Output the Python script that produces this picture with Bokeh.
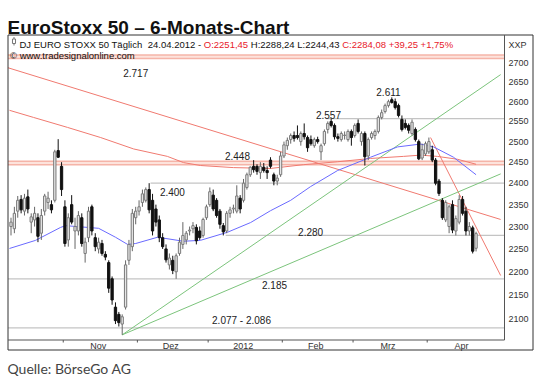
import math
from bokeh.plotting import figure
from bokeh.models import Range1d, ColumnDataSource
from bokeh.core.properties import value
from bokeh.embed import file_html
from bokeh.resources import INLINE

# ---------------- data ----------------
month_days = [16, 22, 21, 22, 21, 22, 15]          # trading days Oct 2011 .. Apr 2012
month_labels = ["Okt", "Nov", "Dez", "2012", "Feb", "Mrz", "Apr"]

opens = [2300, 2295, 2335, 2362, 2335, 2368, 2310, 2315, 2320, 2285, 2335, 2355, 2350, 2360, 2478, 2440,
         2345, 2270, 2350, 2290, 2290, 2320, 2240, 2275, 2345, 2275, 2250, 2262, 2238, 2220, 2185, 2125,
         2110, 2090, 2125, 2225, 2255,
         2320, 2335, 2355, 2360, 2385, 2360, 2340, 2315, 2275, 2250, 2215, 2225, 2200, 2240, 2260, 2270,
         2290, 2295, 2298, 2290, 2280,
         2320, 2350, 2372, 2360, 2335, 2302, 2290, 2330, 2340, 2335, 2365, 2360, 2390, 2420, 2440, 2440,
         2425, 2438, 2430, 2455, 2420, 2405, 2420,
         2465, 2490, 2505, 2515, 2515, 2500, 2520, 2510, 2505, 2490, 2505, 2475, 2495, 2530, 2550, 2540,
         2512, 2505, 2515, 2505, 2525,
         2515, 2545, 2500, 2520, 2465, 2510, 2515, 2525, 2560, 2575, 2590, 2605, 2600, 2590, 2555, 2545,
         2540, 2520, 2530, 2500, 2460, 2470,
         2475, 2480, 2455, 2405, 2360, 2315, 2300, 2350, 2290, 2310, 2362, 2335, 2290, 2297, 2251.45]
highs = [2320, 2345, 2370, 2372, 2375, 2385, 2330, 2345, 2330, 2340, 2375, 2380, 2360, 2480, 2506, 2450,
         2360, 2330, 2372, 2320, 2335, 2330, 2275, 2345, 2350, 2285, 2275, 2270, 2245, 2225, 2190, 2135,
         2115, 2110, 2225, 2270, 2340,
         2345, 2360, 2385, 2390, 2400, 2375, 2350, 2325, 2285, 2260, 2240, 2235, 2240, 2275, 2310, 2290,
         2300, 2310, 2305, 2300, 2320,
         2350, 2390, 2385, 2365, 2340, 2308, 2335, 2345, 2350, 2395, 2372, 2410, 2425, 2440, 2455, 2445,
         2450, 2448, 2440, 2462, 2425, 2420, 2475,
         2500, 2510, 2520, 2525, 2540, 2525, 2545, 2515, 2515, 2510, 2512, 2495, 2530, 2550, 2557, 2545,
         2520, 2525, 2525, 2530, 2530,
         2545, 2555, 2525, 2525, 2510, 2525, 2530, 2565, 2580, 2595, 2605, 2611, 2608, 2595, 2565, 2555,
         2545, 2555, 2535, 2505, 2495, 2500,
         2510, 2490, 2460, 2410, 2365, 2360, 2350, 2360, 2325, 2372, 2370, 2345, 2310, 2302, 2288.24]
lows = [2280, 2285, 2320, 2330, 2325, 2330, 2285, 2300, 2265, 2270, 2325, 2340, 2330, 2355, 2460, 2370,
        2255, 2255, 2305, 2250, 2280, 2255, 2220, 2265, 2280, 2245, 2240, 2235, 2225, 2155, 2130, 2090,
        2085, 2068, 2120, 2215, 2245,
        2305, 2325, 2345, 2355, 2330, 2280, 2300, 2265, 2250, 2220, 2205, 2195, 2185, 2235, 2250, 2260,
        2280, 2285, 2260, 2270, 2275,
        2315, 2345, 2335, 2320, 2295, 2280, 2285, 2320, 2330, 2330, 2330, 2355, 2385, 2415, 2425, 2420,
        2410, 2425, 2410, 2435, 2395, 2395, 2415,
        2460, 2480, 2495, 2500, 2505, 2490, 2505, 2475, 2490, 2485, 2495, 2455, 2490, 2520, 2535, 2505,
        2500, 2500, 2505, 2500, 2490,
        2510, 2520, 2490, 2442, 2455, 2505, 2505, 2520, 2555, 2570, 2585, 2595, 2580, 2560, 2525, 2530,
        2520, 2515, 2500, 2455, 2455, 2465,
        2470, 2450, 2395, 2370, 2315, 2310, 2285, 2285, 2280, 2305, 2325, 2280, 2280, 2240, 2244.43]
closes = [2310, 2330, 2360, 2338, 2365, 2340, 2322, 2330, 2278, 2325, 2370, 2365, 2338, 2475, 2462, 2385,
          2262, 2320, 2310, 2300, 2325, 2262, 2265, 2335, 2290, 2255, 2265, 2240, 2232, 2165, 2140, 2097,
          2093, 2105, 2215, 2260, 2330,
          2335, 2345, 2375, 2385, 2338, 2290, 2310, 2275, 2255, 2226, 2230, 2203, 2235, 2265, 2280, 2285,
          2292, 2302, 2268, 2275, 2316,
          2345, 2380, 2340, 2325, 2305, 2288, 2330, 2338, 2342, 2370, 2340, 2400, 2420, 2438, 2432, 2428,
          2440, 2430, 2425, 2440, 2405, 2412, 2465,
          2492, 2503, 2515, 2508, 2510, 2520, 2512, 2485, 2495, 2505, 2500, 2490, 2525, 2545, 2540, 2512,
          2508, 2520, 2516, 2525, 2510,
          2540, 2525, 2520, 2463, 2505, 2520, 2525, 2560, 2572, 2590, 2600, 2598, 2585, 2565, 2530, 2535,
          2528, 2548, 2505, 2458, 2480, 2495,
          2500, 2455, 2400, 2376, 2320, 2355, 2345, 2292, 2318, 2362, 2330, 2290, 2300, 2245, 2284.08]

ma_blue_idx = [-0.45, 7.3, 14.7, 16.2, 26.0, 31.0, 34.6, 37.0, 43.5, 51.2, 56.2, 64.2, 71.1, 77.0,
               83.0, 88.9, 96.9, 106.7, 114.7, 121.5, 125.4, 131.3, 138.0]
ma_blue_val = [2251, 2269, 2298, 2302, 2296, 2276, 2260, 2262, 2276, 2267, 2269, 2287, 2309, 2336,
               2360, 2392, 2430, 2462, 2487, 2494, 2487, 2462, 2420]
ma_red_idx = [-0.45, 6.7, 16.8, 26.6, 36.4, 46.4, 51.2, 56.2, 66.0, 77.0, 86.8, 96.9, 106.7, 116.5,
              121.5, 126.5, 132.5, 138.0]
ma_red_val = [2578, 2560, 2535, 2510, 2482, 2464, 2449, 2442, 2437, 2435, 2444, 2451, 2459, 2464,
              2467, 2464, 2457, 2445]

red_trend_idx = [-0.9, 145.3]
red_trend_val = [2688, 2316]
red_steep_idx = [124.5, 145.3]
red_steep_val = [2510, 2192]
green_idx = [33, 145.3]
green_steep_val = [2068, 2670]
green_flat_val = [2068, 2422]

red_zones = [2717, 2448]
support_levels = [2557, 2400, 2280, 2185, 2082]
support_start = [93.5, 41.4, 63.7, -0.9, -0.9]

y_ticks = list(range(2100, 2701, 50))
level_labels = ["2.717", "2.611", "2.557", "2.448", "2.400", "2.280", "2.185", "2.077 - 2.086"]
level_label_idx = [37.0, 112.0, 94.2, 67.2, 47.9, 88.9, 78.2, 68.4]
level_label_val = [2674, 2624, 2565, 2464, 2379, 2287, 2171, 2097]

# header pieces: (text, colour, number of spaces before it)
header_parts = [("DJ EURO STOXX 50 Täglich", "#111111", 0),
                ("24.04.2012 -", "#111111", 2),
                ("O:2251,45", "#e8202a", 1),
                ("H:2288,24 L:2244,43", "#111111", 1),
                ("C:2284,08 +39,25 +1,75%", "#e8202a", 1)]
title_text = "EuroStoxx 50 \u2013 6-Monats-Chart"
source_text = "Quelle: BörseGo AG"

# ---------------- layout: the frame covers the whole canvas (page has no margin) ----------------
W, H = 540, 376
PX_IDX0, PX_PER_IDX = 10.5, 3.37           # page x of bar 0, px per bar
PY_REF, V_REF, PX_PER_LN = 318.7, 2100.0, 1018.6


def xd(px):
    return (px - PX_IDX0) / PX_PER_IDX


def yd(py):
    return V_REF * math.exp((PY_REF - py) / PX_PER_LN)


X0, X1 = xd(0), xd(W)
Y0, Y1 = yd(H), yd(0)
BOX_L, BOX_R, BOX_T, BOX_B = xd(7.5), xd(532.5), yd(34.5), yd(349.5)
SEP_X = xd(504)
SEP_Y = yd(339.5)

p = figure(width=W, height=H, output_backend="svg", toolbar_location=None,
           x_range=Range1d(X0, X1), y_range=Range1d(Y0, Y1), y_axis_type="log",
           x_axis_location=None, y_axis_location=None,
           min_border_left=0, min_border_right=0, min_border_top=0, min_border_bottom=0,
           background_fill_color="white", border_fill_color="white")
p.title.visible = False
p.outline_line_color = None
p.grid.visible = False

# red resistance zones
for lv in red_zones:
    p.segment(x0=[BOX_L], y0=[lv], x1=[SEP_X], y1=[lv], line_color="#f5b4a8", line_width=5)
    p.segment(x0=[BOX_L], y0=[lv], x1=[SEP_X], y1=[lv], line_color="#fde3dc", line_width=2)

# grey support / resistance lines
p.segment(x0=support_start, y0=support_levels, x1=[SEP_X] * len(support_levels), y1=support_levels,
          line_color="#c4c4c4", line_width=1.3)

# trend lines
p.line(red_trend_idx, red_trend_val, line_color="#f07a70", line_width=1)
p.line(red_steep_idx, red_steep_val, line_color="#f07a70", line_width=1)
p.line(green_idx, green_steep_val, line_color="#7cc47c", line_width=1)
p.line(green_idx, green_flat_val, line_color="#7cc47c", line_width=1)

# moving averages
p.line(ma_red_idx, ma_red_val, line_color="#f07a70", line_width=1)
p.line(ma_blue_idx, ma_blue_val, line_color="#6a6aff", line_width=1)

# candles
n = len(opens)
up = [c >= o for o, c in zip(opens, closes)]
src = ColumnDataSource(dict(
    x=list(range(n)), h=highs, l=lows,
    top=[max(o, c) for o, c in zip(opens, closes)],
    bot=[min(o, c) for o, c in zip(opens, closes)],
    fill=["#e6e6e6" if u else "#111111" for u in up],
    line=["#7a7a7a" if u else "#111111" for u in up],
    wick=["#666666" if u else "#111111" for u in up]))
p.segment(x0="x", y0="l", x1="x", y1="h", line_color="wick", line_width=1, source=src)
p.vbar(x="x", width=0.68, top="top", bottom="bot", fill_color="fill", line_color="line",
       line_width=1, source=src)

# level labels
p.text(x=level_label_idx, y=level_label_val, text=level_labels, text_align="center",
       text_baseline="middle", text_font=value("Liberation Sans"), text_font_size="10px",
       text_color="#222222")

# outer chart box
p.segment(x0=[BOX_L, BOX_L, BOX_L, BOX_R], y0=[BOX_T, BOX_B, BOX_B, BOX_B],
          x1=[BOX_R, BOX_R, BOX_L, BOX_R], y1=[BOX_T, BOX_B, BOX_T, BOX_T],
          line_color="#333333", line_width=1)

# right axis strip
p.segment(x0=[SEP_X], y0=[SEP_Y], x1=[SEP_X], y1=[BOX_T], line_color="#555555", line_width=1)
p.text(x=[xd(508)] * len(y_ticks), y=y_ticks, text=[str(t) for t in y_ticks], text_align="left",
       text_baseline="middle", text_font=value("Liberation Sans"), text_font_size="9px",
       text_color="#333333")
p.text(x=[xd(508)], y=[yd(44)], text=["XXP"], text_align="left", text_baseline="alphabetic",
       text_font=value("Liberation Sans"), text_font_size="9px", text_color="#333333")

# bottom date strip
p.segment(x0=[BOX_L], y0=[SEP_Y], x1=[SEP_X], y1=[SEP_Y], line_color="#555555", line_width=1)
bounds = []
acc = 0
for d in month_days[:-1]:
    acc += d
    bounds.append(acc - 0.5)
p.segment(x0=bounds, y0=[SEP_Y] * len(bounds), x1=bounds, y1=[yd(342)] * len(bounds),
          line_color="#555555", line_width=1)
ends = bounds[1:] + [bounds[-1] + 21.5]
mids = [(a + b) / 2 - 0.6 for a, b in zip(bounds, ends)]
p.text(x=mids, y=[yd(345)] * len(mids), text=month_labels[1:], text_align="center",
       text_baseline="middle", text_font=value("Liberation Sans"), text_font_size="9px",
       text_color="#333333")

# header inside the chart
EM = {' ': 278, '-': 333, '+': 584, '%': 889, ',': 278, '.': 278, ':': 278, 'A': 667, 'C': 722,
      'D': 722, 'E': 667, 'H': 722, 'J': 500, 'L': 556, 'O': 778, 'R': 722, 'S': 667, 'T': 611,
      'U': 722, 'X': 667, 'ä': 556, 'g': 556, 'l': 222, 'i': 222, 'c': 500, 'h': 556}
HF = 9.5
hx = 19.0
for txt, col, gap in header_parts:
    hx += gap * EM[' '] / 1000 * HF
    p.text(x=[xd(hx)], y=[yd(44)], text=[txt], text_align="left", text_baseline="alphabetic",
           text_font=value("Liberation Sans"), text_font_size=f"{HF}px", text_color=col)
    hx += sum(EM.get(ch, 556) for ch in txt) / 1000 * HF
p.text(x=[xd(9.5)], y=[yd(55)], text=["© www.tradesignalonline.com"], text_align="left",
       text_baseline="alphabetic", text_font=value("Liberation Sans"), text_font_size="9.5px",
       text_color="#111111")
# small chart icon
p.segment(x0=[xd(13.5)], y0=[yd(36.5)], x1=[xd(13.5)], y1=[yd(45)], line_color="#777777", line_width=1)
p.vbar(x=[xd(13.5)], width=0.9, top=[yd(38.5)], bottom=[yd(43)], fill_color="white",
       line_color="#777777", line_width=1)

# title and source line
p.text(x=[xd(7)], y=[yd(27)], text=[title_text], text_align="left", text_baseline="alphabetic",
       text_font=value("Liberation Sans"), text_font_size="19px", text_font_style="bold",
       text_color="#111111")
p.text(x=[xd(7)], y=[yd(367.5)], text=[source_text], text_align="left", text_baseline="alphabetic",
       text_font=value("Lato"), text_font_size="14px", text_color="#444444")

open("out.html", "w").write(file_html(p, INLINE))
